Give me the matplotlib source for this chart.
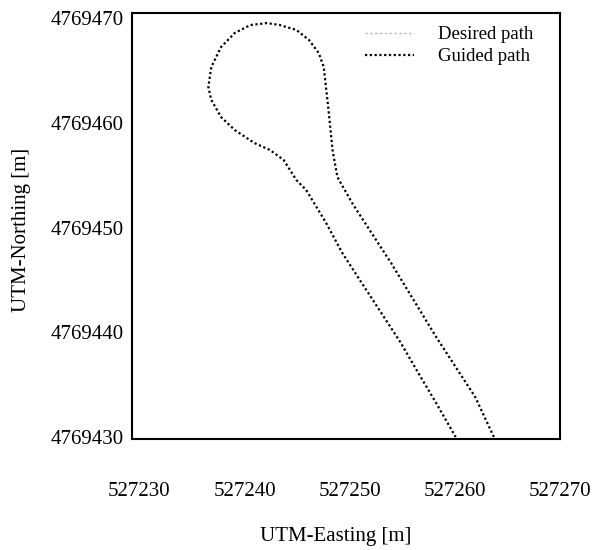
import matplotlib
matplotlib.use("Agg")
import matplotlib.pyplot as plt
from matplotlib.lines import Line2D

# Guided path (UTM coordinates)
guided_easting = [
    527263.71, 527261.94, 527260.08, 527258.22, 527256.08, 527253.94, 527252.08,
    527250.23, 527248.83, 527248.37, 527247.99, 527247.53, 527247.06, 527246.13,
    527244.93, 527243.35, 527242.14, 527240.56, 527239.07, 527237.77, 527236.84,
    527236.56, 527236.84, 527237.77, 527239.07, 527240.93, 527242.42, 527243.72,
    527244.93, 527245.86, 527247.71, 527249.30, 527251.15, 527253.01, 527254.87,
    527256.36, 527258.22, 527260.08,
]
guided_northing = [
    4769429.99, 4769433.81, 4769436.68, 4769439.55, 4769443.08, 4769446.61, 4769449.48,
    4769452.35, 4769454.83, 4769457.41, 4769461.23, 4769465.34, 4769466.68, 4769467.92,
    4769468.88, 4769469.35, 4769469.54, 4769469.35, 4769468.59, 4769467.25, 4769465.34,
    4769463.43, 4769462.19, 4769460.56, 4769459.32, 4769458.08, 4769457.41, 4769456.46,
    4769454.54, 4769453.59, 4769450.53, 4769447.57, 4769444.70, 4769441.84, 4769438.97,
    4769436.39, 4769433.24, 4769429.99,
]

x_ticks = [527230, 527240, 527250, 527260, 527270]
y_ticks = [4769430, 4769440, 4769450, 4769460, 4769470]
x_tick_labels = ["527230", "527240", "527250", "527260", "527270"]
y_tick_labels = ["4769430", "4769440", "4769450", "4769460", "4769470"]
legend_labels = ["Desired path", "Guided path"]

plt.rcParams['font.family'] = ['Liberation Serif', 'DejaVu Serif']

fig = plt.figure(figsize=(6.13, 5.5), dpi=100)
W, H = 613, 550
left, right, top, bottom = 132, 560, 13, 439
ax = fig.add_axes([left / W, 1 - bottom / H, (right - left) / W, (bottom - top) / H])

ax.plot(guided_easting, guided_northing, color='black', lw=1.6,
        linestyle=(0, (1, 1.15)))

ax.set_xlim(527229.3, 527269.1)
ax.set_ylim(4769429.8, 4769470.5)
ax.set_xticks(x_ticks)
ax.set_xticklabels(x_tick_labels)
ax.set_yticks(y_ticks)
ax.set_yticklabels(y_tick_labels)
ax.tick_params(axis='both', length=0, labelsize=15)
ax.tick_params(axis='x', pad=31)
ax.tick_params(axis='y', pad=6)
for s in ax.spines.values():
    s.set_linewidth(1.5)

handles = [
    Line2D([], [], color='#b0b0b0', lw=1.0, linestyle=(0, (1.5, 2))),
    Line2D([], [], color='black', lw=1.6, linestyle=(0, (1, 1.15))),
]
ax.legend(handles, legend_labels, loc='upper right', frameon=False,
          fontsize=13.5, handlelength=2.6, handletextpad=1.3,
          labelspacing=0.25, borderpad=0.2,
          bbox_to_anchor=((538 - left) / (right - left) + 0.02, 1.0))

fig.text(336 / W, 1 - 536 / H, "UTM-Easting [m]", ha='center', va='center', fontsize=15)
fig.text(22 / W, 1 - 230 / H, "UTM-Northing [m]", ha='center', va='center',
         rotation=90, fontsize=15)

fig.savefig("out.png", dpi=100)
